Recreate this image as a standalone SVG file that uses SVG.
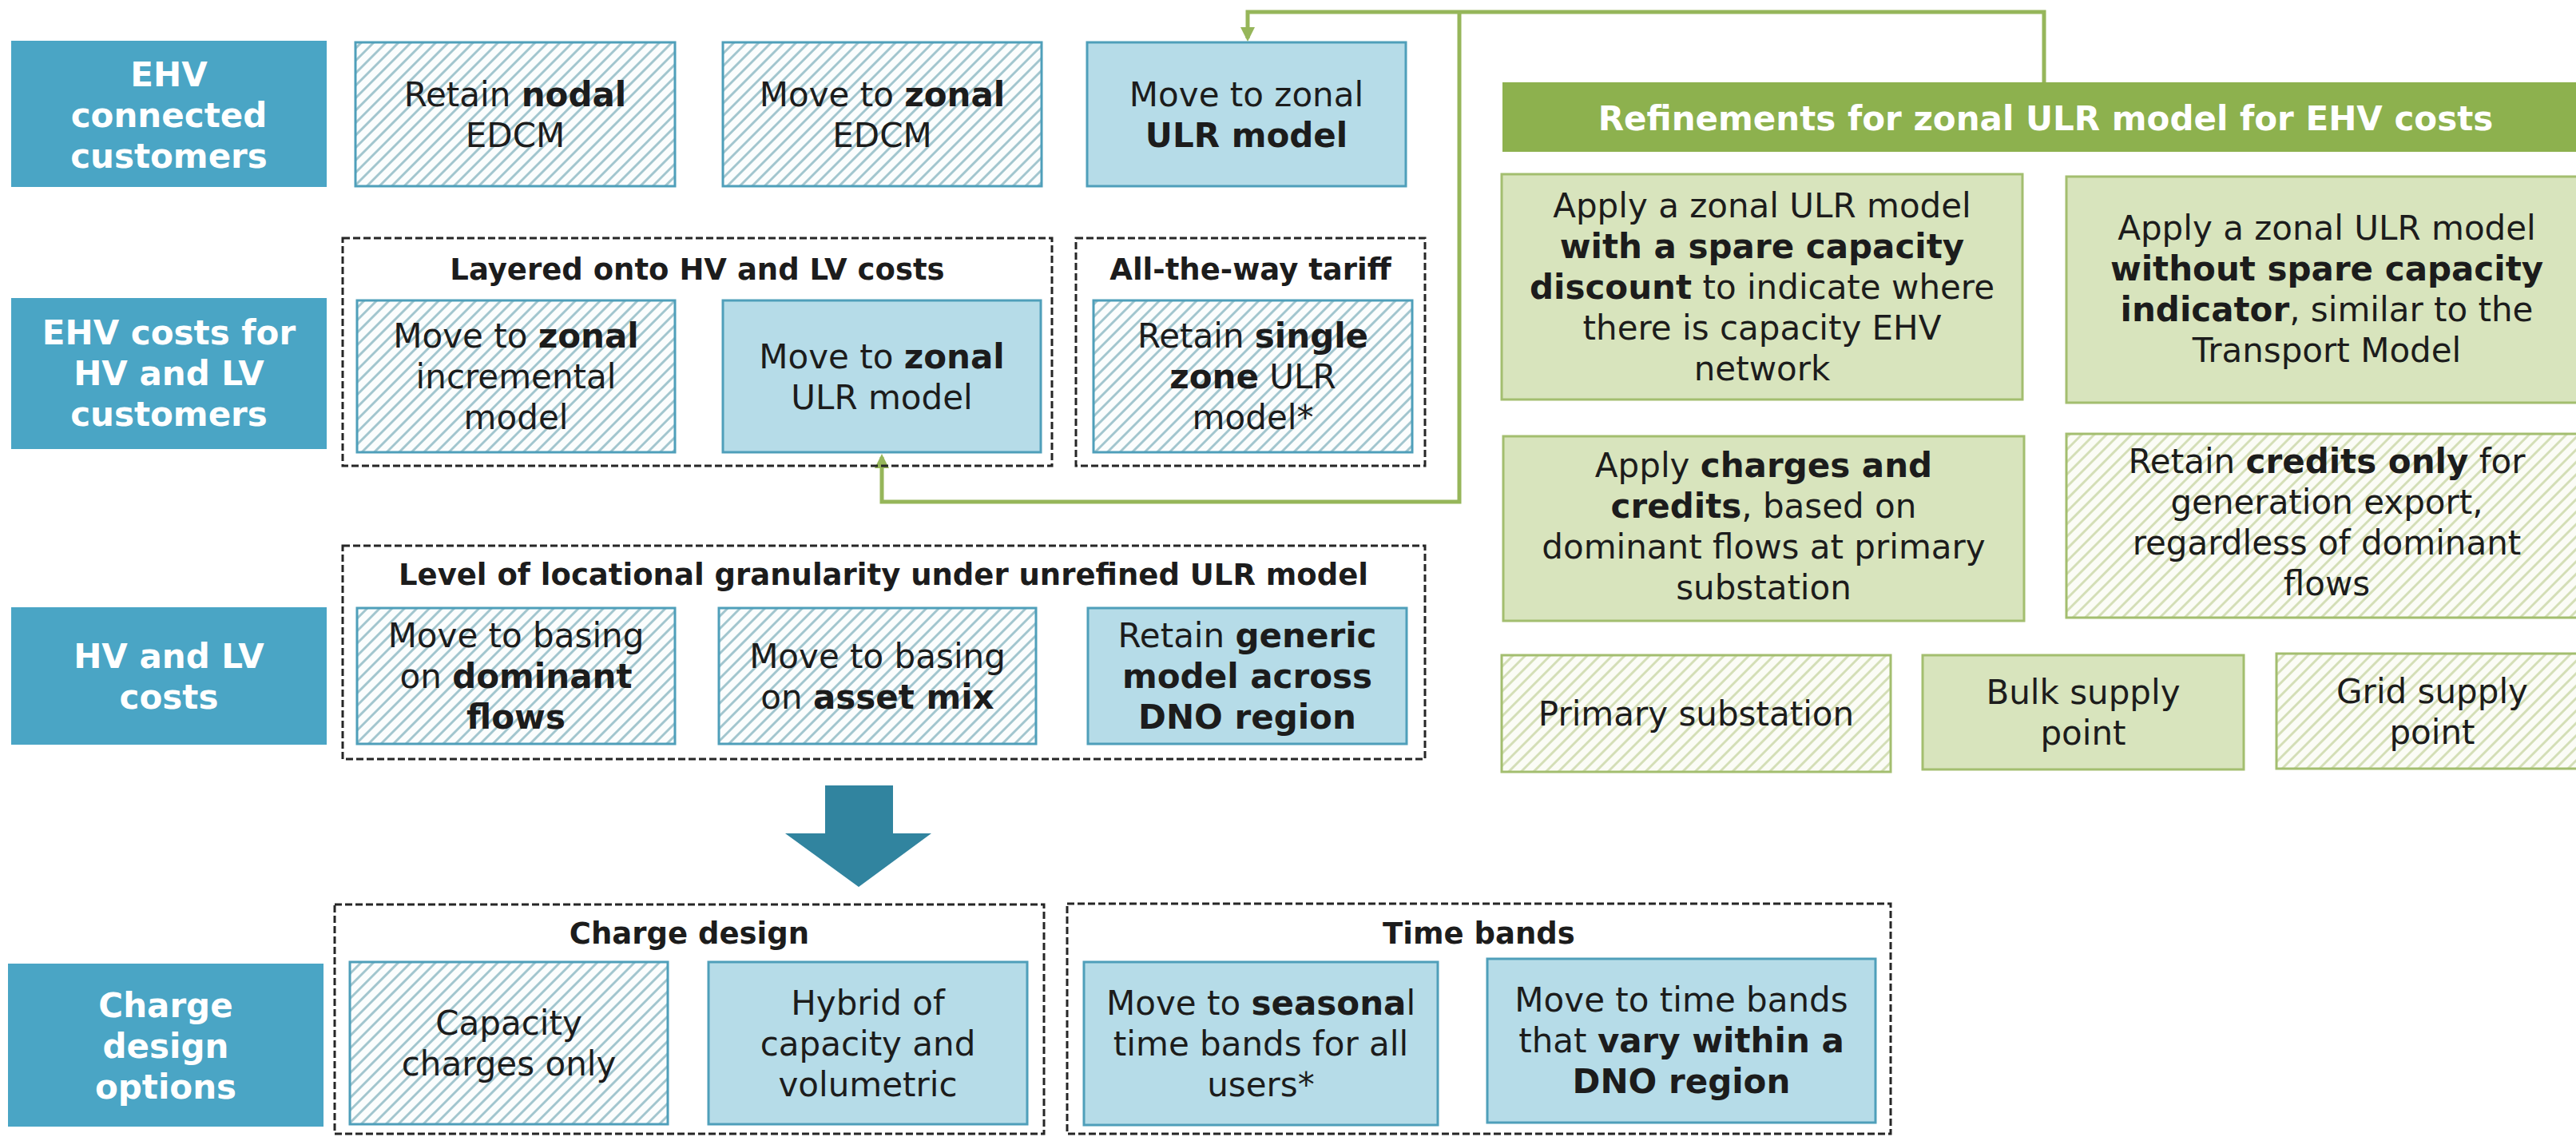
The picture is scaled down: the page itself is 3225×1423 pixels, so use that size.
<svg xmlns="http://www.w3.org/2000/svg" width="3225" height="1423" viewBox="0 0 3225 1423">
  <defs>
    <style>
      .t { font-family: "DejaVu Sans", Verdana, sans-serif; font-size: 42px; fill: #1c1c1c; text-anchor: middle; }
      .b { font-weight: bold; }
      .cat rect { fill: #4aa5c5; }
      .cat text { fill: #ffffff; font-weight: bold; }
      .solid rect { fill: #b6dce8; stroke: #4f9fba; stroke-width: 3; }
      .hatch rect { fill: url(#hatchBlue); stroke: #4f9fba; stroke-width: 3; }
      .gsolid rect { fill: #d8e4bd; stroke: #a3be6f; stroke-width: 3; }
      .ghatch rect { fill: url(#hatchGreen); stroke: #a3be6f; stroke-width: 3; }
      .grp rect { fill: none; stroke: #262626; stroke-width: 3; stroke-dasharray: 9 4; }
      .grp text { font-size: 37px; font-weight: bold; }
      .head rect { fill: #8db14e; }
      .head text { fill: #ffffff; font-weight: bold; }
      .link { fill: none; stroke: #96b65a; stroke-width: 5; }
    </style>
    <pattern id="hatchBlue" patternUnits="userSpaceOnUse" width="11" height="11" patternTransform="rotate(45)">
      <rect width="11" height="11" fill="#fbfdfd"/>
      <line x1="5.5" y1="0" x2="5.5" y2="11" stroke="#9ec3cc" stroke-width="2.8"/>
    </pattern>
    <pattern id="hatchGreen" patternUnits="userSpaceOnUse" width="11" height="11" patternTransform="rotate(45)">
      <rect width="11" height="11" fill="#fbfcf6"/>
      <line x1="5.5" y1="0" x2="5.5" y2="11" stroke="#d2ddb4" stroke-width="2.8"/>
    </pattern>
    <marker id="arrowG" markerUnits="userSpaceOnUse" markerWidth="20" markerHeight="18" refX="14" refY="9" orient="auto">
      <path d="M0,0 L18,9 L0,18 z" fill="#96b65a"/>
    </marker>
  </defs>

  <rect width="3225" height="1423" fill="#ffffff"/>

  <!-- connectors -->
  <g id="connectors">
    <path class="link" d="M2559,104 V15 H1562 V48" marker-end="url(#arrowG)"/>
    <path class="link" d="M1827,15 V628 H1104 V572" marker-end="url(#arrowG)"/>
    <polygon id="down-arrow" points="1033,983 1118,983 1118,1043 1166,1043 1075,1110 983,1043 1033,1043" fill="#31849f"/>
  </g>

  <!-- dashed groupings -->
  <g id="grp-layered" class="grp">
    <rect x="429" y="298" width="888" height="285"/>
    <text class="t" x="873" y="350">Layered onto HV and LV costs</text>
  </g>
  <g id="grp-alltheway" class="grp">
    <rect x="1347" y="298" width="437" height="285"/>
    <text class="t" x="1565.5" y="350">All-the-way tariff</text>
  </g>
  <g id="grp-granularity" class="grp">
    <rect x="429" y="683" width="1355" height="267"/>
    <text class="t" x="1106" y="732">Level of locational granularity under unrefined ULR model</text>
  </g>
  <g id="grp-charge" class="grp">
    <rect x="419" y="1132" width="888" height="287"/>
    <text class="t" x="863" y="1181">Charge design</text>
  </g>
  <g id="grp-timebands" class="grp">
    <rect x="1336" y="1131" width="1031" height="288"/>
    <text class="t" x="1851.5" y="1181">Time bands</text>
  </g>

  <!-- row categories -->
  <g id="cat-ehv-connected" class="cat">
    <rect x="14" y="51" width="395" height="183"/>
    <text class="t"><tspan x="211.5" y="108">EHV</tspan><tspan x="211.5" y="159">connected</tspan><tspan x="211.5" y="210">customers</tspan></text>
  </g>
  <g id="cat-ehv-costs" class="cat">
    <rect x="14" y="373" width="395" height="189"/>
    <text class="t"><tspan x="211.5" y="431">EHV costs for</tspan><tspan x="211.5" y="482">HV and LV</tspan><tspan x="211.5" y="533">customers</tspan></text>
  </g>
  <g id="cat-hv-lv" class="cat">
    <rect x="14" y="760" width="395" height="172"/>
    <text class="t"><tspan x="211.5" y="836">HV and LV</tspan><tspan x="211.5" y="887">costs</tspan></text>
  </g>
  <g id="cat-charge" class="cat">
    <rect x="10" y="1206" width="395" height="204"/>
    <text class="t"><tspan x="207.5" y="1273">Charge</tspan><tspan x="207.5" y="1324">design</tspan><tspan x="207.5" y="1375">options</tspan></text>
  </g>

  <!-- row 1 options -->
  <g id="opt-nodal-edcm" class="hatch">
    <rect x="445" y="53" width="400" height="180"/>
    <text class="t"><tspan x="645" y="133">Retain <tspan class="b">nodal</tspan></tspan><tspan x="645" y="184">EDCM</tspan></text>
  </g>
  <g id="opt-zonal-edcm" class="hatch">
    <rect x="905" y="53" width="399" height="180"/>
    <text class="t"><tspan x="1104.5" y="133">Move to <tspan class="b">zonal</tspan></tspan><tspan x="1104.5" y="184">EDCM</tspan></text>
  </g>
  <g id="opt-zonal-ulr-ehv" class="solid">
    <rect x="1361" y="53" width="399" height="180"/>
    <text class="t"><tspan x="1560.5" y="133">Move to zonal</tspan><tspan x="1560.5" y="184" class="b">ULR model</tspan></text>
  </g>

  <!-- row 2 options -->
  <g id="opt-zonal-incremental" class="hatch">
    <rect x="447" y="376" width="398" height="190"/>
    <text class="t"><tspan x="646" y="435">Move to <tspan class="b">zonal</tspan></tspan><tspan x="646" y="486">incremental</tspan><tspan x="646" y="537">model</tspan></text>
  </g>
  <g id="opt-zonal-ulr-layered" class="solid">
    <rect x="905" y="376" width="398" height="190"/>
    <text class="t"><tspan x="1104" y="461">Move to <tspan class="b">zonal</tspan></tspan><tspan x="1104" y="512">ULR model</tspan></text>
  </g>
  <g id="opt-single-zone" class="hatch">
    <rect x="1369" y="376" width="399" height="190"/>
    <text class="t"><tspan x="1568.5" y="435">Retain <tspan class="b">single</tspan></tspan><tspan x="1568.5" y="486"><tspan class="b">zone</tspan> ULR</tspan><tspan x="1568.5" y="537">model*</tspan></text>
  </g>

  <!-- row 3 options -->
  <g id="opt-dominant-flows" class="hatch">
    <rect x="447" y="761" width="398" height="170"/>
    <text class="t"><tspan x="646" y="810">Move to basing</tspan><tspan x="646" y="861">on <tspan class="b">dominant</tspan></tspan><tspan x="646" y="912" class="b">flows</tspan></text>
  </g>
  <g id="opt-asset-mix" class="hatch">
    <rect x="900" y="761" width="397" height="170"/>
    <text class="t"><tspan x="1098.5" y="836">Move to basing</tspan><tspan x="1098.5" y="887">on <tspan class="b">asset mix</tspan></tspan></text>
  </g>
  <g id="opt-generic" class="solid">
    <rect x="1362" y="761" width="399" height="170"/>
    <text class="t"><tspan x="1561.5" y="810">Retain <tspan class="b">generic</tspan></tspan><tspan x="1561.5" y="861" class="b">model across</tspan><tspan x="1561.5" y="912" class="b">DNO region</tspan></text>
  </g>

  <!-- row 4 options -->
  <g id="opt-capacity-only" class="hatch">
    <rect x="438" y="1204" width="398" height="203"/>
    <text class="t"><tspan x="637" y="1295">Capacity</tspan><tspan x="637" y="1346">charges only</tspan></text>
  </g>
  <g id="opt-hybrid" class="solid">
    <rect x="887" y="1204" width="399" height="203"/>
    <text class="t"><tspan x="1086.5" y="1270">Hybrid of</tspan><tspan x="1086.5" y="1321">capacity and</tspan><tspan x="1086.5" y="1372">volumetric</tspan></text>
  </g>
  <g id="opt-seasonal" class="solid">
    <rect x="1357" y="1204" width="443" height="204"/>
    <text class="t"><tspan x="1578.5" y="1270">Move to <tspan class="b">seasona</tspan>l</tspan><tspan x="1578.5" y="1321">time bands for all</tspan><tspan x="1578.5" y="1372">users*</tspan></text>
  </g>
  <g id="opt-vary-region" class="solid">
    <rect x="1862" y="1200" width="486" height="205"/>
    <text class="t"><tspan x="2105" y="1266">Move to time bands</tspan><tspan x="2105" y="1317">that <tspan class="b">vary within a</tspan></tspan><tspan x="2105" y="1368" class="b">DNO region</tspan></text>
  </g>

  <!-- refinements panel -->
  <g id="ref-header" class="head">
    <rect x="1881" y="103" width="1360" height="87"/>
    <text class="t" x="2561" y="163">Refinements for zonal ULR model for EHV costs</text>
  </g>
  <g id="ref-spare-discount" class="gsolid">
    <rect x="1880" y="218" width="652" height="282"/>
    <text class="t"><tspan x="2206" y="272">Apply a zonal ULR model</tspan><tspan x="2206" y="323" class="b">with a spare capacity</tspan><tspan x="2206" y="374"><tspan class="b">discount</tspan> to indicate where</tspan><tspan x="2206" y="425">there is capacity EHV</tspan><tspan x="2206" y="476">network</tspan></text>
  </g>
  <g id="ref-no-indicator" class="gsolid">
    <rect x="2587" y="221" width="652" height="283"/>
    <text class="t"><tspan x="2913" y="300">Apply a zonal ULR model</tspan><tspan x="2913" y="351" class="b">without spare capacity</tspan><tspan x="2913" y="402"><tspan class="b">indicator</tspan>, similar to the</tspan><tspan x="2913" y="453">Transport Model</tspan></text>
  </g>
  <g id="ref-charges-credits" class="gsolid">
    <rect x="1882" y="546" width="652" height="231"/>
    <text class="t"><tspan x="2208" y="597">Apply <tspan class="b">charges and</tspan></tspan><tspan x="2208" y="648"><tspan class="b">credits</tspan>, based on</tspan><tspan x="2208" y="699">dominant flows at primary</tspan><tspan x="2208" y="750">substation</tspan></text>
  </g>
  <g id="ref-credits-only" class="ghatch">
    <rect x="2587" y="543" width="652" height="230"/>
    <text class="t"><tspan x="2913" y="592">Retain <tspan class="b">credits only</tspan> for</tspan><tspan x="2913" y="643">generation export,</tspan><tspan x="2913" y="694">regardless of dominant</tspan><tspan x="2913" y="745">flows</tspan></text>
  </g>
  <g id="ref-primary" class="ghatch">
    <rect x="1880" y="820" width="487" height="146"/>
    <text class="t" x="2123.5" y="908">Primary substation</text>
  </g>
  <g id="ref-bulk" class="gsolid">
    <rect x="2407" y="820" width="402" height="143"/>
    <text class="t"><tspan x="2608" y="881">Bulk supply</tspan><tspan x="2608" y="932">point</tspan></text>
  </g>
  <g id="ref-grid" class="ghatch">
    <rect x="2850" y="818" width="390" height="144"/>
    <text class="t"><tspan x="3045" y="880">Grid supply</tspan><tspan x="3045" y="931">point</tspan></text>
  </g>
</svg>
